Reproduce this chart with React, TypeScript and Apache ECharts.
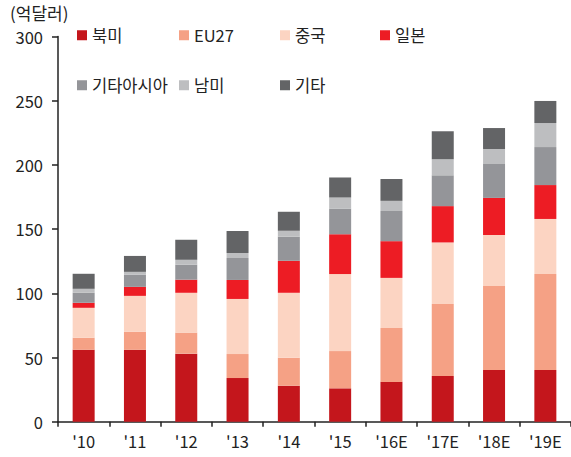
import React, { useEffect, useRef } from "react";
import * as echarts from "echarts";

const categories = ["'10", "'11", "'12", "'13", "'14", "'15", "'16E", "'17E", "'18E", "'19E"];
const northAmerica = [56, 56, 53, 34, 28, 26, 31, 35.6, 40.3, 40.3];
const eu27 = [9.4, 14, 16.4, 18.7, 21.8, 29, 42, 56, 65.4, 74.7];
const china = [23.3, 28, 31, 42.9, 50.6, 60, 39, 48, 39.7, 42.9];
const japan = [3.9, 7, 10.2, 14.8, 24.9, 31, 28.6, 28.3, 28.9, 26.4];
const otherAsia = [7.8, 9.4, 11.6, 17.1, 18.8, 20, 23.5, 24, 26.4, 29.6];
const southAmerica = [3.1, 2.3, 3.9, 3.9, 4.6, 8.6, 7.9, 12.5, 11.7, 18.7];
const others = [11.7, 12.4, 15.6, 17.1, 14.8, 15.6, 17, 21.8, 16.3, 17.2];

const seriesNames = ["북미", "EU27", "중국", "일본", "기타아시아", "남미", "기타"];
const seriesData = [northAmerica, eu27, china, japan, otherAsia, southAmerica, others];
const seriesColors = ["#C4161C", "#F5A185", "#FCD4C2", "#ED1C24", "#949599", "#BDBEC0", "#636466"];
const unitLabel = "(억달러)";

const FONT = "'Noto Sans CJK KR', 'Noto Sans', sans-serif";
const legendPos = [
  [77, 27],
  [179, 27],
  [280, 27],
  [380, 27],
  [77, 77],
  [179, 77],
  [280, 77],
];

export default function App() {
  const ref = useRef<HTMLDivElement>(null);
  useEffect(() => {
    document.body.style.margin = "0";
    const chart = echarts.init(ref.current!, null, { renderer: "svg" });
    chart.setOption({
      animation: false,
      textStyle: { fontFamily: FONT },
      grid: { left: 58, right: 0, top: 36.5, bottom: 35.3 },
      graphic: [
        {
          type: "text",
          left: 10,
          top: 4,
          style: { text: unitLabel, fontSize: 17, fontFamily: FONT, fill: "#222" },
        },
      ],
      legend: seriesNames.map((n, i) => ({
        data: [n],
        left: legendPos[i][0],
        top: legendPos[i][1],
        padding: 0,
        icon: "rect",
        itemWidth: 10,
        itemHeight: 10,
        selectedMode: false,
        textStyle: { fontSize: 16.5, color: "#222", fontFamily: FONT },
      })),
      xAxis: {
        type: "category",
        data: categories,
        axisLine: { lineStyle: { color: "#222", width: 1.5 } },
        axisTick: { show: true, alignWithLabel: false, length: 5, lineStyle: { color: "#222", width: 1.5 } },
        axisLabel: { fontSize: 16.5, color: "#222", margin: 11, fontFamily: FONT },
      },
      yAxis: {
        type: "value",
        min: 0,
        max: 300,
        interval: 50,
        axisLine: { show: true, lineStyle: { color: "#222", width: 1.5 } },
        axisTick: { show: true, length: 6, lineStyle: { color: "#222", width: 1.5 } },
        splitLine: { show: false },
        axisLabel: { fontSize: 16.5, color: "#222", margin: 15, fontFamily: FONT },
      },
      series: seriesNames.map((n, i) => ({
        name: n,
        type: "bar",
        stack: "total",
        data: seriesData[i],
        barWidth: 22,
        itemStyle: { color: seriesColors[i] },
      })),
    });
    return () => chart.dispose();
  }, []);
  return <div ref={ref} style={{ width: 571, height: 457 }} />;
}
